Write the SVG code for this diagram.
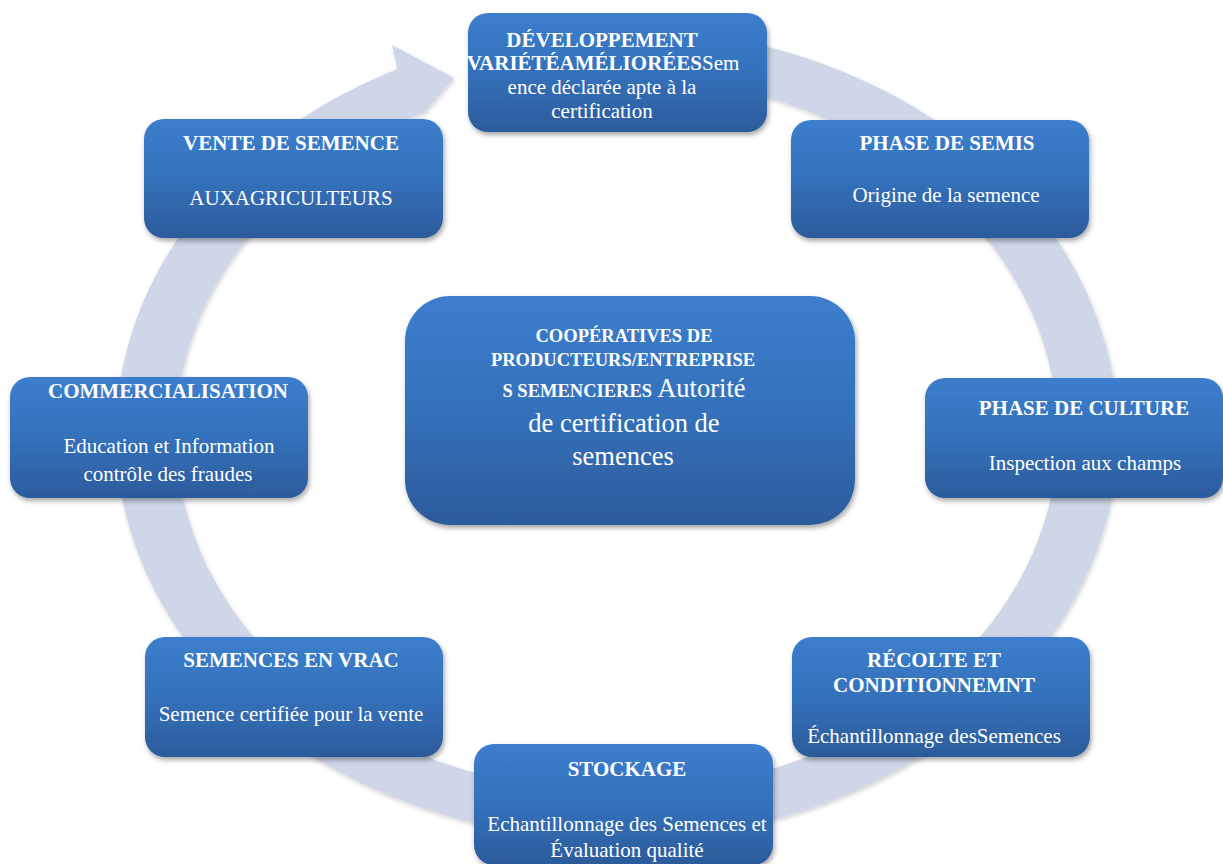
<svg xmlns="http://www.w3.org/2000/svg" width="1223" height="864" viewBox="0 0 1223 864">
<defs>
<linearGradient id="nodeGrad" x1="0" y1="0" x2="0" y2="1">
<stop offset="0" stop-color="#3C7ECD"/>
<stop offset="0.5" stop-color="#3471BB"/>
<stop offset="1" stop-color="#2C5B9B"/>
</linearGradient>
<filter id="shadow" x="-10%" y="-10%" width="120%" height="130%">
<feDropShadow dx="1.5" dy="3" stdDeviation="2.5" flood-color="#000" flood-opacity="0.35"/>
</filter>
<filter id="ringShadow" x="-5%" y="-5%" width="110%" height="110%">
<feDropShadow dx="1" dy="2" stdDeviation="2" flood-color="#000" flood-opacity="0.18"/>
</filter>
<style>
.node rect { fill: url(#nodeGrad); filter: url(#shadow); }
.t { font-family: "Liberation Serif", "Times New Roman", serif; fill: #FFFFFF; text-anchor: middle; font-size: 21px; }
.b { font-weight: bold; }
.cb { font-weight: bold; font-size: 18.5px; }
.cr { font-size: 26.5px; }
</style>
</defs>
<rect width="1223" height="864" fill="#FFFFFF"/>
<g id="connectors">
<path d="M 660.7 29.6 A 501 406 0 1 1 397.4 69.1 L 392 45 L 454 78 L 405 135 L 423.7 112.2 A 441 358 0 1 0 655.4 77.4 Z" fill="#CED6E7" filter="url(#ringShadow)"/>
</g>
<g id="node-developpement" class="node">
<rect x="468" y="13" width="299" height="119" rx="20"/>
<text class="t b" x="602" y="47">DÉVELOPPEMENT</text>
<text class="t" x="603" y="70"><tspan class="b">VARIÉTÉAMÉLIORÉES</tspan>Sem</text>
<text class="t" x="602" y="94">ence déclarée apte à la</text>
<text class="t" x="602" y="118">certification</text>
</g>
<g id="node-semis" class="node">
<rect x="791" y="120" width="298" height="118" rx="20"/>
<text class="t b" x="947" y="150">PHASE DE SEMIS</text>
<text class="t" x="946" y="202">Origine de la semence</text>
</g>
<g id="node-culture" class="node">
<rect x="925" y="378" width="298" height="120" rx="20"/>
<text class="t b" x="1084" y="415">PHASE DE CULTURE</text>
<text class="t" x="1085" y="470">Inspection aux champs</text>
</g>
<g id="node-recolte" class="node">
<rect x="792" y="637" width="298" height="120" rx="20"/>
<text class="t b" x="934" y="667">RÉCOLTE ET</text>
<text class="t b" x="934" y="692">CONDITIONNEMNT</text>
<text class="t" x="934" y="743">Échantillonnage desSemences</text>
</g>
<g id="node-stockage" class="node">
<rect x="474" y="744" width="299" height="121" rx="20"/>
<text class="t b" x="627" y="776">STOCKAGE</text>
<text class="t" x="627" y="831">Echantillonnage des Semences et</text>
<text class="t" x="627" y="857">Évaluation qualité</text>
</g>
<g id="node-vrac" class="node">
<rect x="145" y="637" width="298" height="120" rx="20"/>
<text class="t b" x="291" y="667">SEMENCES EN VRAC</text>
<text class="t" x="291" y="721">Semence certifiée pour la vente</text>
</g>
<g id="node-commercialisation" class="node">
<rect x="10" y="377" width="298" height="121" rx="20"/>
<text class="t b" x="168" y="398">COMMERCIALISATION</text>
<text class="t" x="169" y="453">Education et Information</text>
<text class="t" x="168" y="481">contrôle des fraudes</text>
</g>
<g id="node-vente" class="node">
<rect x="144" y="119" width="299" height="119" rx="20"/>
<text class="t b" x="291" y="150">VENTE DE SEMENCE</text>
<text class="t" x="291" y="205">AUXAGRICULTEURS</text>
</g>
<g id="node-centre" class="node">
<rect x="405" y="296" width="450" height="229" rx="45"/>
<text class="t cb" x="624" y="342">COOPÉRATIVES DE</text>
<text class="t cb" x="623" y="366">PRODUCTEURS/ENTREPRISE</text>
<text class="t" x="624" y="397"><tspan class="cb">S SEMENCIERES</tspan><tspan class="cr"> Autorité</tspan></text>
<text class="t cr" x="624" y="432">de certification de</text>
<text class="t cr" x="623" y="465">semences</text>
</g>
</svg>
